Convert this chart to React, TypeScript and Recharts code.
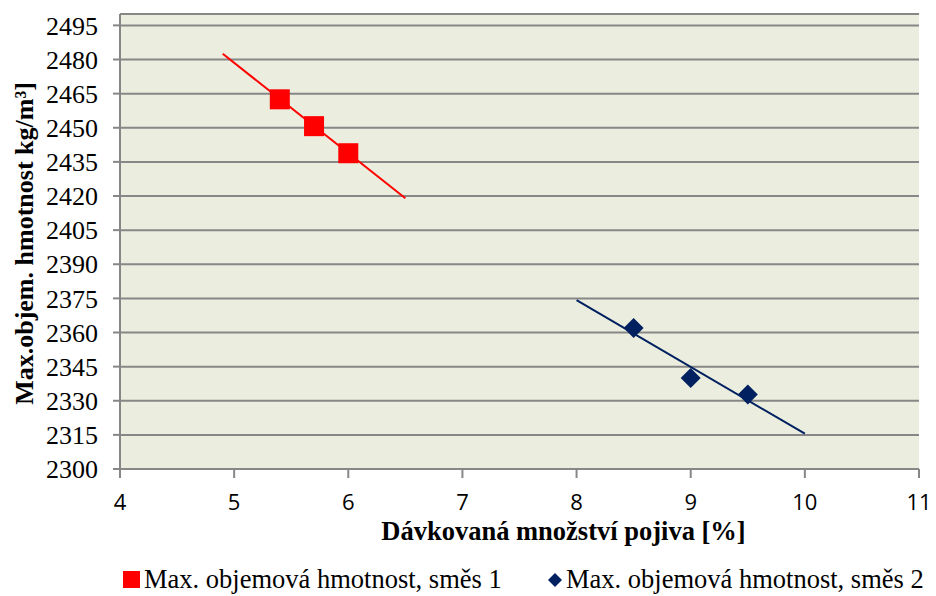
import { ScatterChart, Scatter, XAxis, YAxis, CartesianGrid } from 'recharts';

// Measured points (x = dosage %, y = max density)
const mix1X = [5.4, 5.7, 6.0];
const mix1Y = [2462.5, 2450.7, 2438.8];
const mix2X = [8.5, 9.0, 9.5];
const mix2Y = [2362, 2340, 2332.7];

// Linear trendline end points
const trend1X = [4.9, 6.5];
const trend1Y = [2482.5, 2419];
const trend2X = [8.0, 10.0];
const trend2Y = [2374.2, 2315.5];

const xTicks = [4, 5, 6, 7, 8, 9, 10, 11];
const yTicks = [2300, 2315, 2330, 2345, 2360, 2375, 2390, 2405, 2420, 2435, 2450, 2465, 2480, 2495];

const toPoints = (xs: number[], ys: number[]) => xs.map((x, i) => ({ x, y: ys[i] }));

const RED = '#FF0000';
const NAVY = '#002060';
const GRID = '#878787';
const SERIF = '"Liberation Serif", "Times New Roman", serif';

const SquareShape = (props: any) => {
  const { cx, cy } = props;
  return <rect x={cx - 10} y={cy - 10} width={20} height={20} fill={RED} />;
};

const DiamondShape = (props: any) => {
  const { cx, cy } = props;
  const r = 10;
  return <polygon points={`${cx},${cy - r} ${cx + r},${cy} ${cx},${cy + r} ${cx - r},${cy}`} fill={NAVY} />;
};

const NoShape = () => <g />;

const legendItem: React.CSSProperties = {
  position: 'absolute',
  top: 0,
  display: 'flex',
  alignItems: 'center',
  whiteSpace: 'nowrap',
};

const App = () => {
  const mix1 = toPoints(mix1X, mix1Y);
  const mix2 = toPoints(mix2X, mix2Y);
  const trend1 = toPoints(trend1X, trend1Y);
  const trend2 = toPoints(trend2X, trend2Y);

  return (
    <div style={{ position: 'fixed', left: 0, top: 0, width: 936, height: 596, background: '#fff' }}>
      <ScatterChart width={936} height={596} margin={{ top: 14, right: 17, left: 0, bottom: 47 }}>
        <CartesianGrid
          vertical={false}
          stroke={GRID}
          strokeWidth={2}
          fill="#EBEEDE"
          fillOpacity={1}
        />
        <XAxis
          type="number"
          dataKey="x"
          domain={[4, 11]}
          ticks={xTicks}
          height={80}
          tickSize={9}
          tickMargin={16}
          stroke={GRID}
          strokeWidth={2}
          tick={{ fontFamily: '"Open Sans", sans-serif', fontSize: 22, fill: '#000' }}
          label={{
            content: (p: any) => {
              const vb = p.viewBox;
              return (
                <text
                  x={vb.x + vb.width / 2 + 44}
                  y={vb.y + 71}
                  textAnchor="middle"
                  fontFamily={SERIF}
                  fontWeight="bold"
                  fontSize={26.5}
                  fill="#000"
                >
                  Dávkovaná množství pojiva [%]
                </text>
              );
            },
          }}
        />
        <YAxis
          type="number"
          dataKey="y"
          domain={[2300, 2500]}
          ticks={yTicks}
          interval={0}
          width={120}
          tickSize={7}
          tickMargin={15}
          stroke={GRID}
          strokeWidth={2}
          tick={{ fontFamily: SERIF, fontSize: 26, fill: '#000' }}
          label={{
            content: (p: any) => {
              const vb = p.viewBox;
              const cy = vb.y + vb.height / 2 + 2;
              return (
                <text
                  x={24}
                  y={cy}
                  transform={`rotate(-90, 24, ${cy})`}
                  textAnchor="middle"
                  dominantBaseline="central"
                  fontFamily={SERIF}
                  fontWeight="bold"
                  fontSize={26}
                  fill="#000"
                >
                  Max.objem. hmotnost kg/m³]
                </text>
              );
            },
          }}
        />
        <Scatter
          data={trend1}
          line={{ stroke: RED, strokeWidth: 2 }}
          shape={NoShape}
          isAnimationActive={false}
        />
        <Scatter
          data={trend2}
          line={{ stroke: NAVY, strokeWidth: 2 }}
          shape={NoShape}
          isAnimationActive={false}
        />
        <Scatter name="Max. objemová hmotnost, směs 1" data={mix1} shape={SquareShape} isAnimationActive={false} />
        <Scatter name="Max. objemová hmotnost, směs 2" data={mix2} shape={DiamondShape} isAnimationActive={false} />
      </ScatterChart>
      <div
        style={{
          position: 'absolute',
          top: 564,
          left: 0,
          width: 936,
          height: 32,
          fontFamily: SERIF,
          fontSize: 26.5,
          color: '#000',
        }}
      >
        <span style={{ ...legendItem, left: 123 }}>
          <span style={{ display: 'inline-block', width: 17, height: 17, background: RED, marginRight: 4 }} />
          Max. objemová hmotnost, směs 1
        </span>
        <span style={{ ...legendItem, left: 547 }}>
          <svg width={16} height={16} style={{ marginRight: 3 }}>
            <polygon points="8,1 15,8 8,15 1,8" fill={NAVY} />
          </svg>
          Max. objemová hmotnost, směs 2
        </span>
      </div>
    </div>
  );
};

export default App;
